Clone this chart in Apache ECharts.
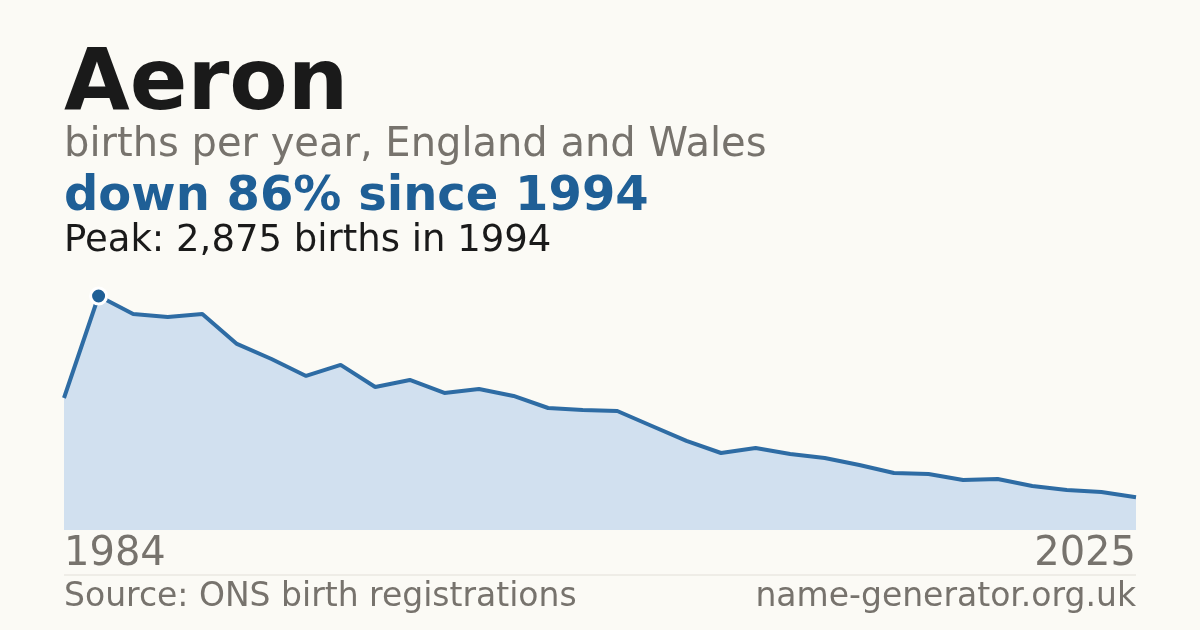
<!DOCTYPE html><html><head><meta charset="utf-8"><script src="https://cdn.jsdelivr.net/npm/echarts@6/dist/echarts.min.js"></script>
<style>html,body{margin:0;background:#fbfaf5}#c{width:1200px;height:630px}</style></head><body><div id="c"></div><script>
const years=['1984'];for(let y=1994;y<=2023;y++)years.push(String(y));years.push('2025');
const births=[1622,2875,2655,2618,2655,2286,2101,1893,2028,1757,1843,1684,1733,1647,1499,1475,1462,1278,1094,946,1008,934,885,799,700,688,614,627,541,492,467,402];
const c=echarts.init(document.getElementById('c'));
c.setOption({backgroundColor:'#fbfaf5',animation:false,
grid:{left:64,right:64,top:296,bottom:100},
graphic:[
{type:'text',left:64,top:44,style:{text:'Aeron',font:'bold 85px "DejaVu Sans"',fill:'#1a1a1a'}},
{type:'text',left:64,top:126,style:{text:'births per year, England and Wales',font:'40px "DejaVu Sans"',fill:'#77736d'}},
{type:'text',left:64,top:174,style:{text:'down 86% since 1994',font:'bold 48px "DejaVu Sans"',fill:'#1f5f96'}},
{type:'text',left:64,top:223,style:{text:'Peak: 2,875 births in 1994',font:'37px "DejaVu Sans"',fill:'#1a1a1a'}},
{type:'text',left:64,top:535,style:{text:'1984',font:'40px "DejaVu Sans"',fill:'#77736d'}},
{type:'text',right:64,top:535,style:{text:'2025',font:'40px "DejaVu Sans"',fill:'#77736d',align:'right'}},
{type:'line',shape:{x1:64,y1:575,x2:1136,y2:575},style:{stroke:'#e2dfd8',lineWidth:1}},
{type:'text',left:64,top:581,style:{text:'Source: ONS birth registrations',font:'33px "DejaVu Sans"',fill:'#77736d'}},
{type:'text',right:64,top:581,style:{text:'name-generator.org.uk',font:'33px "DejaVu Sans"',fill:'#77736d',align:'right'}}
],
xAxis:{type:'category',data:years,boundaryGap:false,show:false},
yAxis:{type:'value',min:0,max:2875,show:false},
series:[{type:'line',data:births,symbol:'none',lineStyle:{color:'#2e6ca4',width:4},areaStyle:{color:'#d1e0ef',opacity:1},
markPoint:{data:[{coord:['1994',2875]}],symbol:'circle',symbolSize:16,itemStyle:{color:'#1f5f96',borderColor:'#fff',borderWidth:3},label:{show:false}}}]
});
</script></body></html>
